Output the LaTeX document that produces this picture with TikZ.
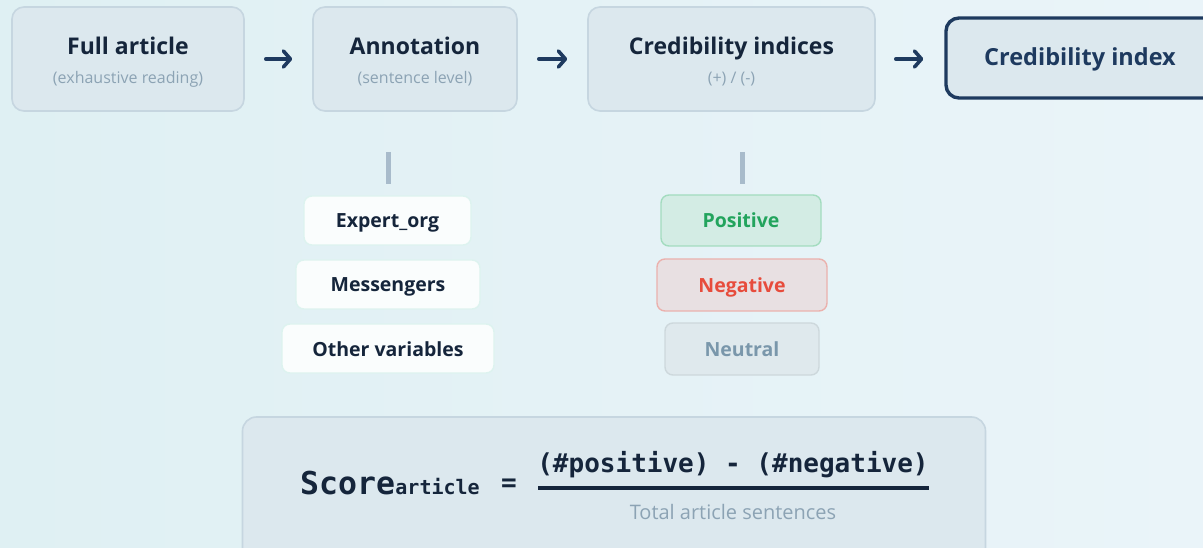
\documentclass[tikz,border=0pt]{standalone}
\usepackage{fontspec}
\setmainfont{Open Sans}
\newfontfamily\monof{DejaVu Sans Mono}
\usetikzlibrary{arrows.meta}
\definecolor{bgL}{HTML}{DFF0F3}
\definecolor{bgR}{HTML}{EAF4F9}
\definecolor{boxfill}{HTML}{DCE8EE}
\definecolor{boxline}{HTML}{C6D6E0}
\definecolor{navy}{HTML}{1E3A5F}
\definecolor{ink}{HTML}{15253B}
\definecolor{subgray}{HTML}{8CA3B4}
\definecolor{stemc}{HTML}{A8BBCB}
\definecolor{pillfill}{HTML}{FAFDFD}
\definecolor{pillline}{HTML}{DDF3EF}
\definecolor{posfill}{HTML}{D3ECE4}
\definecolor{posline}{HTML}{A3DCBF}
\definecolor{postext}{HTML}{22A45D}
\definecolor{negfill}{HTML}{E8E0E2}
\definecolor{negline}{HTML}{EBB1AD}
\definecolor{negtext}{HTML}{E74C3C}
\definecolor{neufill}{HTML}{DFE9ED}
\definecolor{neuline}{HTML}{CDD8DC}
\definecolor{neutext}{HTML}{7A97AB}
\tikzset{
  topbox/.style={draw=boxline, line width=1.6pt, fill=boxfill, rounded corners=12pt, inner sep=0pt},
  ttl/.style={font=\fontsize{23}{26}\selectfont\bfseries, text=ink, inner sep=0pt, anchor=base},
  subt/.style={font=\fontsize{16}{19}\selectfont, text=subgray, inner sep=0pt, anchor=base},
  arr/.style={draw=navy, line width=3.6pt, line cap=round, line join=round,
    -{Straight Barb[length=7pt,width=16pt,line cap=round,line join=round]}},
  stem/.style={draw=stemc, line width=4.5pt},
  pill/.style={rounded corners=8pt, line width=1.4pt, inner sep=0pt, minimum height=49pt,
    text height=15pt, text depth=0pt,
    font=\fontsize{19.5}{22}\selectfont\bfseries},
  wpill/.style={pill, fill=pillfill, draw=pillline, text=ink},
}
\begin{document}
\begin{tikzpicture}[x=1pt,y=-1pt]
\useasboundingbox (0,0) rectangle (1203,548);
\clip (0,0) rectangle (1203,548);
\shade[left color=bgL, right color=bgR] (0,0) rectangle (1203,548);

% top row
\node[topbox, minimum width=232pt, minimum height=104pt] (full) at (128,59) {};
\node[ttl] (fullt) at (128,55) {Full article};
\node[subt] (fulls) at (128,84) {(exhaustive reading)};

\node[topbox, minimum width=204pt, minimum height=104pt] (anno) at (415,59) {};
\node[ttl] (annot) at (415,55) {Annotation};
\node[subt] (annos) at (415,84) {(sentence level)};

\node[topbox, minimum width=287pt, minimum height=104pt] (cred) at (731.5,59) {};
\node[ttl] (credt) at (731.5,55) {Credibility indices};
\node[subt] (creds) at (731.5,84) {(+) / (-)};

\node[draw=navy, line width=3.4pt, fill=boxfill, rounded corners=13pt, inner sep=0pt,
  minimum width=280pt, minimum height=80pt] (idx) at (1086,58) {};
\node[font=\fontsize{23.5}{26}\selectfont\bfseries, text=navy, inner sep=0pt, anchor=base] (idxt) at (1080,66) {Credibility index};

\draw[arr, shorten <=21pt, shorten >=20pt] (full) -- (anno);
\draw[arr, shorten <=21pt, shorten >=20pt] (anno) -- (cred);
\draw[arr, shorten <=20pt, shorten >=21pt] (cred.east) -- (cred.east -| idx.west);

% stems
\coordinate (s1a) at (388.5,152);
\coordinate (s1b) at (388.5,184);
\coordinate (s2a) at (742.5,152);
\coordinate (s2b) at (742.5,184);
\draw[stem] (s1a) -- (s1b);
\draw[stem] (s2a) -- (s2b);

% left pills
\node[wpill, minimum width=167pt] (expert) at (387.5,220.5) {Expert\_org};
\node[wpill, minimum width=184pt] (mess) at (388,284.5) {Messengers};
\node[wpill, minimum width=212pt] (other) at (388,348.5) {Other variables};

% right pills
\node[pill, minimum width=160pt, minimum height=51pt, fill=posfill, draw=posline, text=postext] (pos) at (741,220.5) {Positive};
\node[pill, minimum width=170pt, minimum height=52pt, fill=negfill, draw=negline, text=negtext] (neg) at (742,285) {Negative};
\node[pill, minimum width=154pt, minimum height=52pt, fill=neufill, draw=neuline, text=neutext] (neu) at (742,349) {Neutral};

% formula box
\node[draw=boxline, line width=1.6pt, fill=boxfill, rounded corners=14pt, inner sep=0pt,
  minimum width=743pt, minimum height=160pt] (fbox) at (614,497) {};
\node[font=\monof\bfseries\fontsize{31.5}{34}\selectfont, text=ink, inner sep=0pt, anchor=base west] (score) at (300,494) {Score};
\node[font=\monof\bfseries\fontsize{20}{22}\selectfont, text=ink, inner sep=0pt, anchor=base west] (subs) at (score.base east) {article};
\node[font=\monof\bfseries\fontsize{26}{28}\selectfont, text=ink, inner sep=0pt] (eq) at (509,485) {=};
\node[font=\monof\bfseries\fontsize{26}{28}\selectfont, text=ink, inner sep=0pt, anchor=base] (num) at (733,472) {(\#positive) - (\#negative)};
\coordinate (barl) at (538,488);
\coordinate (barr) at (929,488);
\draw[draw=ink, line width=3.4pt] (barl) -- (barr);
\node[font=\fontsize{20}{23}\selectfont, text=subgray, inner sep=0pt] (den) at (733,512) {Total article sentences};
\end{tikzpicture}
\end{document}
